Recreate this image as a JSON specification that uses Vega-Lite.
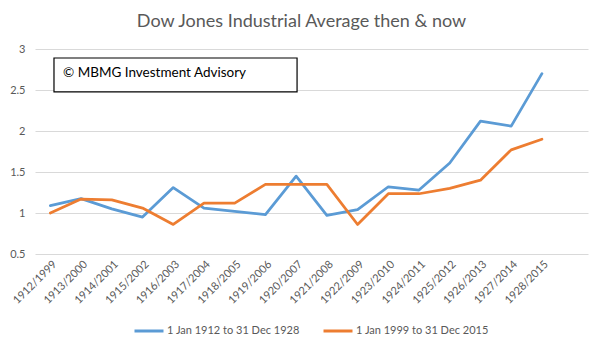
{
  "$schema": "https://vega.github.io/schema/vega-lite/v6.json",
  "autosize": "none",
  "width": 553,
  "height": 205,
  "padding": {"left": 35, "top": 49, "right": 15, "bottom": 96},
  "background": "white",
  "title": {"text": "Dow Jones Industrial Average then & now", "dx": -10, "offset": 12, "font": "Lato", "fontSize": 18, "fontWeight": "normal", "color": "#595959"},
  "config": {
    "font": "Lato",
    "view": {"stroke": null}
  },
  "datasets": {
    "series": [
      {"period": "1912/1999", "series": "1 Jan 1912 to 31 Dec 1928", "value": 1.09},
      {"period": "1913/2000", "series": "1 Jan 1912 to 31 Dec 1928", "value": 1.175},
      {"period": "1914/2001", "series": "1 Jan 1912 to 31 Dec 1928", "value": 1.05},
      {"period": "1915/2002", "series": "1 Jan 1912 to 31 Dec 1928", "value": 0.95},
      {"period": "1916/2003", "series": "1 Jan 1912 to 31 Dec 1928", "value": 1.31},
      {"period": "1917/2004", "series": "1 Jan 1912 to 31 Dec 1928", "value": 1.06},
      {"period": "1918/2005", "series": "1 Jan 1912 to 31 Dec 1928", "value": 1.02},
      {"period": "1919/2006", "series": "1 Jan 1912 to 31 Dec 1928", "value": 0.98},
      {"period": "1920/2007", "series": "1 Jan 1912 to 31 Dec 1928", "value": 1.45},
      {"period": "1921/2008", "series": "1 Jan 1912 to 31 Dec 1928", "value": 0.97},
      {"period": "1922/2009", "series": "1 Jan 1912 to 31 Dec 1928", "value": 1.04},
      {"period": "1923/2010", "series": "1 Jan 1912 to 31 Dec 1928", "value": 1.32},
      {"period": "1924/2011", "series": "1 Jan 1912 to 31 Dec 1928", "value": 1.28},
      {"period": "1925/2012", "series": "1 Jan 1912 to 31 Dec 1928", "value": 1.61},
      {"period": "1926/2013", "series": "1 Jan 1912 to 31 Dec 1928", "value": 2.12},
      {"period": "1927/2014", "series": "1 Jan 1912 to 31 Dec 1928", "value": 2.06},
      {"period": "1928/2015", "series": "1 Jan 1912 to 31 Dec 1928", "value": 2.70},
      {"period": "1912/1999", "series": "1 Jan 1999 to 31 Dec 2015", "value": 1.0},
      {"period": "1913/2000", "series": "1 Jan 1999 to 31 Dec 2015", "value": 1.17},
      {"period": "1914/2001", "series": "1 Jan 1999 to 31 Dec 2015", "value": 1.16},
      {"period": "1915/2002", "series": "1 Jan 1999 to 31 Dec 2015", "value": 1.06},
      {"period": "1916/2003", "series": "1 Jan 1999 to 31 Dec 2015", "value": 0.86},
      {"period": "1917/2004", "series": "1 Jan 1999 to 31 Dec 2015", "value": 1.12},
      {"period": "1918/2005", "series": "1 Jan 1999 to 31 Dec 2015", "value": 1.12},
      {"period": "1919/2006", "series": "1 Jan 1999 to 31 Dec 2015", "value": 1.35},
      {"period": "1920/2007", "series": "1 Jan 1999 to 31 Dec 2015", "value": 1.35},
      {"period": "1921/2008", "series": "1 Jan 1999 to 31 Dec 2015", "value": 1.35},
      {"period": "1922/2009", "series": "1 Jan 1999 to 31 Dec 2015", "value": 0.86},
      {"period": "1923/2010", "series": "1 Jan 1999 to 31 Dec 2015", "value": 1.235},
      {"period": "1924/2011", "series": "1 Jan 1999 to 31 Dec 2015", "value": 1.235},
      {"period": "1925/2012", "series": "1 Jan 1999 to 31 Dec 2015", "value": 1.30},
      {"period": "1926/2013", "series": "1 Jan 1999 to 31 Dec 2015", "value": 1.40},
      {"period": "1927/2014", "series": "1 Jan 1999 to 31 Dec 2015", "value": 1.77},
      {"period": "1928/2015", "series": "1 Jan 1999 to 31 Dec 2015", "value": 1.90}
    ],
    "note": [
      {"label": "© MBMG Investment Advisory", "x0": 0.118, "x1": 8.03, "xt": 0.41, "y0": 2.476, "y1": 2.89, "yt": 2.705}
    ]
  },
  "layer": [
    {
      "data": {"name": "series"},
      "mark": {"type": "line", "strokeWidth": 2.75, "strokeJoin": "round", "strokeCap": "round"},
      "encoding": {
        "x": {
          "field": "period", "type": "ordinal", "sort": null,
          "scale": {"type": "point", "padding": 1, "align": 0.25},
          "axis": {"title": null, "domain": false, "ticks": false, "grid": false, "labelAngle": -45, "labelFontSize": 11, "labelColor": "#595959", "labelPadding": 4}
        },
        "y": {
          "field": "value", "type": "quantitative",
          "scale": {"domain": [0.5, 3], "nice": false, "zero": false},
          "axis": {"title": null, "values": [0.5, 1, 1.5, 2, 2.5, 3], "format": "~g", "domain": false, "ticks": false, "gridColor": "#d9d9d9", "gridWidth": 1, "labelFontSize": 11, "labelColor": "#595959", "labelPadding": 10}
        },
        "color": {
          "field": "series", "type": "nominal",
          "scale": {"domain": ["1 Jan 1912 to 31 Dec 1928", "1 Jan 1999 to 31 Dec 2015"], "range": ["#5B9BD5", "#ED7D31"]},
          "legend": {"title": null, "orient": "none", "direction": "horizontal", "legendX": 98, "legendY": 266, "symbolType": "stroke", "symbolSize": 841, "symbolStrokeWidth": 3, "labelFontSize": 11, "labelColor": "#595959", "labelOffset": 2, "columnPadding": 17}
        }
      }
    },
    {
      "data": {"name": "note"},
      "mark": {"type": "rect", "fill": "white", "stroke": "black", "strokeWidth": 1.2},
      "encoding": {
        "x": {"field": "x0", "type": "quantitative", "scale": {"domain": [-0.5, 17.5], "nice": false, "zero": false}, "axis": null},
        "x2": {"field": "x1"},
        "y": {"field": "y0", "type": "quantitative"},
        "y2": {"field": "y1"}
      }
    },
    {
      "data": {"name": "note"},
      "mark": {"type": "text", "align": "left", "baseline": "middle", "fontSize": 13.5, "color": "black"},
      "encoding": {
        "x": {"field": "xt", "type": "quantitative", "scale": {"domain": [-0.5, 17.5], "nice": false, "zero": false}, "axis": null},
        "y": {"field": "yt", "type": "quantitative"},
        "text": {"field": "label"}
      }
    }
  ],
  "resolve": {"scale": {"x": "independent"}}
}
